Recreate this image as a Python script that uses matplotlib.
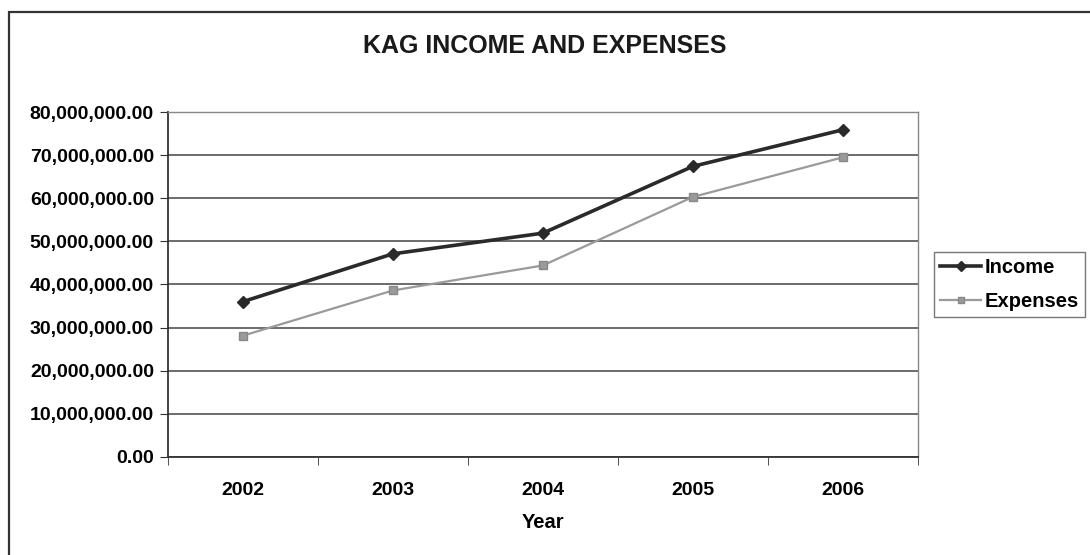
import matplotlib.pyplot as plt
import numpy as np
from matplotlib.ticker import FuncFormatter, FixedLocator
from matplotlib.patches import Rectangle

years = ['2002', '2003', '2004', '2005', '2006']
income = [36.0e6, 47.1e6, 51.9e6, 67.4e6, 75.9e6]
expenses = [28.1e6, 38.6e6, 44.4e6, 60.3e6, 69.5e6]

plt.rcParams['font.family'] = ['Liberation Sans', 'DejaVu Sans']
plt.rcParams['font.weight'] = 'bold'

fig = plt.figure(figsize=(10.9, 5.55), dpi=100)
ax = fig.add_axes([0.154, 0.177, 0.688, 0.621])

x = np.arange(len(years))
ax.plot(x, income, color='#2a2a2a', lw=2.6, marker='D', ms=6, label='Income', zorder=3)
ax.plot(x, expenses, color='#9a9a9a', lw=1.6, marker='s', ms=6,
        markeredgecolor='#888888', label='Expenses', zorder=3)

ax.set_xlim(-0.5, len(years) - 0.5)
ax.set_ylim(0, 80e6)
ax.set_yticks(np.arange(0, 80e6 + 1, 10e6))
ax.yaxis.set_major_formatter(FuncFormatter(lambda v, p: f'{v:,.2f}'))
ax.set_xticks(x)
ax.set_xticklabels(years)
ax.xaxis.set_minor_locator(FixedLocator(np.arange(-0.5, len(years), 1.0)))
ax.tick_params(axis='x', which='major', length=0, pad=18, labelsize=14)
ax.tick_params(axis='x', which='minor', length=6, direction='out', color='#333333')
ax.tick_params(axis='y', length=6, direction='out', color='#333333', labelsize=14, pad=4)

ax.grid(axis='y', color='#444444', lw=1.1)
ax.set_axisbelow(True)
for s in ['left', 'bottom']:
    ax.spines[s].set_color('#333333')
    ax.spines[s].set_linewidth(1.3)
for s in ['top', 'right']:
    ax.spines[s].set_color('#888888')
    ax.spines[s].set_linewidth(1.0)

ax.set_xlabel('Year', fontsize=14.5, fontweight='bold', labelpad=10)
fig.text(0.5, 0.918, 'KAG INCOME AND EXPENSES', ha='center', va='center',
         fontsize=18, fontweight='bold', color='#1a1a1a')

leg = fig.legend(loc='center left', bbox_to_anchor=(0.848, 0.488), fontsize=14.5,
                 frameon=True, fancybox=False, edgecolor='#555555',
                 handlelength=2.0, borderpad=0.3, labelspacing=0.75, handletextpad=0.2,
                 markerscale=0.8)
leg.get_frame().set_linewidth(1.0)

# outer chart border from the scan
fig.patches.append(Rectangle((0.008, -0.02), 1.1, 0.998, transform=fig.transFigure,
                             fill=False, edgecolor='#333333', lw=1.6))

fig.savefig('out.png', dpi=100)
